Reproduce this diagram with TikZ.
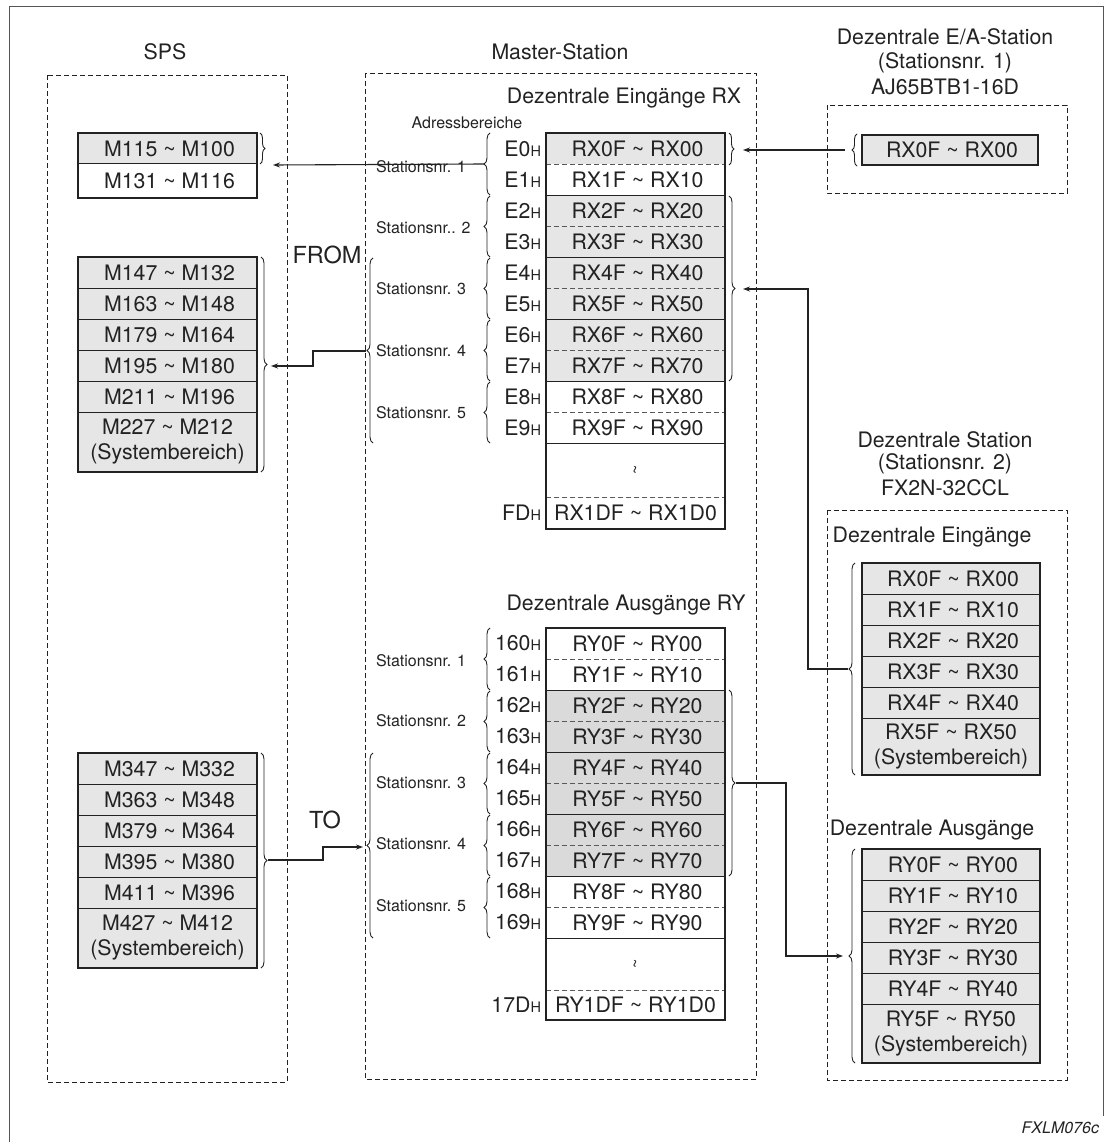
\documentclass[tikz,border=0pt]{standalone}
\usepackage{fontspec}
\setmainfont{TeX Gyre Heros}
\usetikzlibrary{arrows.meta,decorations.pathreplacing}

\newcommand\fmain{\fontsize{21.3}{25}\selectfont}
\newcommand\fsmall{\fontsize{16}{19}\selectfont}
\newcommand\fhex{\fontsize{14.5}{17}\selectfont}
\newcommand\fbig{\fontsize{23.5}{28}\selectfont}
\newcommand\tsep{\ \textasciitilde\ }
\newcommand\hx{{\fhex H}}

\definecolor{ink}{HTML}{222222}
\definecolor{shadeA}{HTML}{E6E6E6}
\definecolor{shadeB}{HTML}{DADADA}
\definecolor{framegray}{HTML}{555555}

\begin{document}
\begin{tikzpicture}[x=1pt,y=-1pt,
  every node/.style={inner sep=0pt,outer sep=0pt,text=ink},
  lbl/.style={font=\fmain},
  stat/.style={font=\fsmall,anchor=west},
  addr/.style={font=\fmain,anchor=east},
  cell/.style={font=\fmain,minimum width=179pt,minimum height=31pt,align=center},
  dcell/.style={font=\fmain,minimum width=178pt,minimum height=31pt,align=center,fill=shadeA},
  dbox/.style={draw=ink,line width=0.9pt,dash pattern=on 5pt off 3pt},
  tframe/.style={draw=ink,line width=1.4pt},
  tsolid/.style={draw=ink,line width=1pt},
  tdash/.style={draw=black!65,line width=0.9pt,dash pattern=on 5pt off 3pt},
  brc/.style={draw=ink,line width=0.9pt,decorate,decoration={brace,amplitude=#1}},
  brc/.default=6pt,
  conn/.style={draw=ink,line width=1.1pt},
  arr/.style={-{Stealth[length=7pt,width=5pt]}},
]
\useasboundingbox (0,0) rectangle (1105,1142);

% outer frame
\draw[framegray,line width=1pt] (9,1142) -- (9,7) -- (1103,7) -- (1103,1116);

% ---------------- SPS ----------------
\node[lbl] (spsT) at (165,52) {SPS};
\draw[dbox] (47,75) rectangle (287,1082);

\node[cell,fill=shadeA] (m1) at (167.5,148.5) {\hspace*{4pt}M115\tsep M100};
\node[cell,minimum height=34pt,fill=white] (m2) at (167.5,181) {\hspace*{4pt}M131\tsep M116};
\draw[tsolid] (78,164) -- (257,164);
\draw[tframe] (78,133) rectangle (257,198);
\draw[brc=5pt] (260,133) -- (260,164);
\coordinate (sps1in) at (273,165);

\foreach \a/\b [count=\k from 0] in {147/132,163/148,179/164,195/180,211/196} {
  \node[cell,fill=shadeA] (gA\k) at (167.5,{272.5+31*\k}) {\hspace*{4pt}M\a\tsep M\b};
}
\node[cell,fill=shadeA,minimum height=60pt] (gA5) at (167.5,442) {M227\tsep M212\\(Systembereich)};
\foreach \k in {1,...,5} \draw[tsolid] (78,{257+31*\k}) -- (257,{257+31*\k});
\draw[tframe] (78,257) rectangle (257,472);
\draw[brc] (261,257) -- (261,472);
\coordinate (gAin) at (271,366);

\foreach \a/\b [count=\k from 0] in {347/332,363/348,379/364,395/380,411/396} {
  \node[cell,fill=shadeA] (gB\k) at (167.5,{768.5+31*\k}) {\hspace*{4pt}M\a\tsep M\b};
}
\node[cell,fill=shadeA,minimum height=60pt] (gB5) at (167.5,938) {M427\tsep M412\\(Systembereich)};
\foreach \k in {1,...,5} \draw[tsolid] (78,{753+31*\k}) -- (257,{753+31*\k});
\draw[tframe] (78,753) rectangle (257,968);
\draw[brc] (261,753) -- (261,968);
\coordinate (gBtip) at (268,860);

\node[font=\fbig] (from) at (327,255) {FROM};
\node[font=\fbig] (to) at (325,820) {TO};

% ---------------- Master-Station ----------------
\node[lbl] (msT) at (560,52) {Master-Station};
\draw[dbox] (365,73) rectangle (756,1079);

% inputs RX
\node[lbl] (rxT) at (624,98) {Dezentrale Eingänge RX};
\node[font=\fsmall] (adr) at (467,123) {Adressbereiche};
\foreach \i/\c in {0/shadeA,1/white,2/shadeA,3/shadeA,4/shadeA,5/shadeA,6/shadeA,7/shadeA,8/white,9/white} {
  \node[cell,fill=\c] (rx\i) at (635.5,{148.5+31*\i}) {\hspace*{4pt}RX\i F\tsep RX\i 0};
  \node[addr] (rxa\i) at (541,{148.5+31*\i}) {E\i\hx};
}
\node[cell,minimum height=54pt] (rxgap) at (635.5,470) {};
\node[font=\fsmall,rotate=90] (rxwave) at (637,470) {\textasciitilde};
\node[cell,minimum height=32pt] (rxlast) at (635.5,513) {RX1DF\tsep RX1D0};
\node[addr] (rxalast) at (541,513) {FD\hx};
\foreach \i in {1,3,5,7,9} \draw[tdash] (546,{133+31*\i}) -- (725,{133+31*\i});
\foreach \i in {2,4,6,8,10} \draw[tsolid] (546,{133+31*\i}) -- (725,{133+31*\i});
\draw[tdash] (546,497) -- (725,497);
\draw[tframe] (546,133) rectangle (725,529);

\foreach \s/\t/\b in {1/133/195,2/196/257,3/258/319,4/320/381,5/382/443} {
  \draw[brc] (490,\b) -- (490,\t);
  \coordinate (rxst\s) at (484,{(\t+\b)/2});
}
\node[stat] (rxs1) at (376,167) {Stationsnr. 1};
\node[stat] (rxs2) at (376,228) {Stationsnr.. 2};
\node[stat] (rxs3) at (376,289) {Stationsnr. 3};
\node[stat] (rxs4) at (376,351) {Stationsnr. 4};
\node[stat] (rxs5) at (376,413) {Stationsnr. 5};
\draw[brc] (373,443) -- (373,258);
\coordinate (rxo) at (366,351);

\draw[brc=5pt] (729,133) -- (729,165);
\coordinate (rx0in) at (743,150);
\draw[brc] (729,196) -- (729,381);
\coordinate (rxgin) at (743,289);

% outputs RY
\node[lbl] (ryT) at (626,605) {Dezentrale Ausgänge RY};
\foreach \i/\c in {0/white,1/white,2/shadeB,3/shadeB,4/shadeB,5/shadeB,6/shadeB,7/shadeB,8/white,9/white} {
  \node[cell,fill=\c] (ry\i) at (635.5,{643.5+31*\i}) {\hspace*{4pt}RY\i F\tsep RY\i 0};
  \node[addr] (rya\i) at (541,{643.5+31*\i}) {16\i\hx};
}
\node[cell,minimum height=52pt] (rygap) at (635.5,964) {};
\node[font=\fsmall,rotate=90] (rywave) at (637,964) {\textasciitilde};
\node[cell,minimum height=30pt] (rylast) at (635.5,1005) {RY1DF\tsep RY1D0};
\node[addr] (ryalast) at (541,1005) {17D\hx};
\foreach \i in {1,3,5,7,9} \draw[tdash] (546,{628+31*\i}) -- (725,{628+31*\i});
\foreach \i in {2,4,6,8,10} \draw[tsolid] (546,{628+31*\i}) -- (725,{628+31*\i});
\draw[tdash] (546,990) -- (725,990);
\draw[tframe] (546,628) rectangle (725,1020);

\foreach \s/\t/\b in {1/628/690,2/691/752,3/753/814,4/815/876,5/877/938} {
  \draw[brc] (490,\b) -- (490,\t);
  \coordinate (ryst\s) at (484,{(\t+\b)/2});
}
\node[stat] (rys1) at (376,661) {Stationsnr. 1};
\node[stat] (rys2) at (376,721) {Stationsnr. 2};
\node[stat] (rys3) at (376,783) {Stationsnr. 3};
\node[stat] (rys4) at (376,844) {Stationsnr. 4};
\node[stat] (rys5) at (376,906) {Stationsnr. 5};
\draw[brc] (373,938) -- (373,753);
\coordinate (ryo) at (363,847);

\draw[brc] (729,690) -- (729,876);
\coordinate (rygtip) at (736,783);

% ---------------- Dezentrale E/A-Station ----------------
\node[lbl] (ea1) at (945,37) {Dezentrale E/A-Station};
\node[lbl] (ea2) at (945,63) {(Stationsnr. 1)};
\node[lbl] (ea3) at (945,87) {AJ65BTB1-16D};
\draw[dbox] (827,105) rectangle (1067,193);
\node[cell,minimum width=176pt,minimum height=30pt,fill=shadeA,draw=ink,line width=1.4pt] (ea) at (950,150) {\hspace*{4pt}RX0F\tsep RX00};
\draw[brc=5pt] (857,166) -- (857,134);
\coordinate (eatip) at (845,150);

% ---------------- Dezentrale Station ----------------
\node[lbl] (ds1) at (945,440) {Dezentrale Station};
\node[lbl] (ds2) at (945,464) {(Stationsnr. 2)};
\node[lbl] (ds3) at (945,488) {FX2N-32CCL};
\draw[dbox] (827,510) rectangle (1067,1080);

\node[lbl] (dinT) at (932,537) {Dezentrale Eingänge};
\foreach \k in {0,...,4} {
  \node[dcell] (di\k) at (951,{578.5+31*\k}) {\hspace*{4pt}RX\k F\tsep RX\k 0};
}
\node[dcell,minimum height=57pt] (di5) at (951,746.5) {RX5F\tsep RX50\\(Systembereich)};
\foreach \k in {1,...,5} \draw[tsolid] (862,{563+31*\k}) -- (1040,{563+31*\k});
\draw[tframe] (862,563) rectangle (1040,775);
\draw[brc] (855,775) -- (855,563);
\coordinate (dintip) at (848,669);

\node[lbl] (doutT) at (932,830) {Dezentrale Ausgänge};
\foreach \k in {0,...,4} {
  \node[dcell] (do\k) at (951,{864.5+31*\k}) {\hspace*{4pt}RY\k F\tsep RY\k 0};
}
\node[dcell,minimum height=59pt] (do5) at (951,1033.5) {RY5F\tsep RY50\\(Systembereich)};
\foreach \k in {1,...,5} \draw[tsolid] (862,{849+31*\k}) -- (1040,{849+31*\k});
\draw[tframe] (862,849) rectangle (1040,1063);
\draw[brc] (855,1063) -- (855,849);
\coordinate (doutin) at (843,956);

% ---------------- connectors ----------------
\draw[conn,arr] (rxst1) -- (sps1in);
\draw[conn,arr] (eatip) -- (rx0in);
\draw[conn,arr] (rxo) -- (313,351) |- (gAin);
\draw[conn,arr] (gBtip) -- (323,860) |- (ryo);
\draw[conn,arr] (dintip) -- (808,669) |- (rxgin);
\draw[conn,arr] (rygtip) -- (786,783) |- (doutin);

\node[font=\fsmall\itshape,anchor=east] (code) at (1099,1128) {FXLM076c};
\end{tikzpicture}
\end{document}
